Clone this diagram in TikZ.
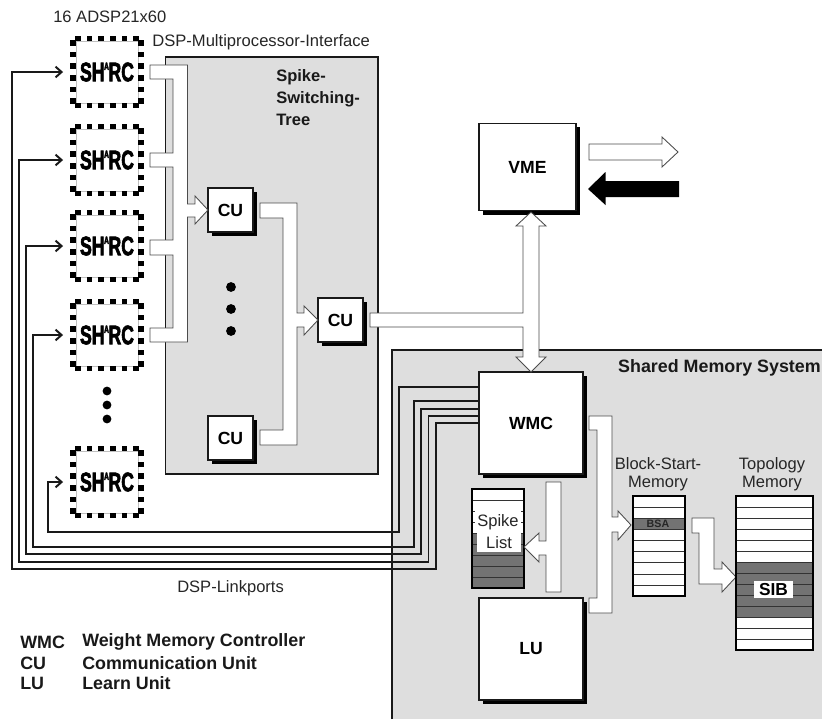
\documentclass[tikz,border=0pt]{standalone}
\usepackage{fontspec}
\usepackage{graphicx}
\setmainfont{Liberation Sans}
\newfontfamily\sharcfont[FakeBold=3]{Liberation Sans}
\usetikzlibrary{arrows.meta,shadows}
\colorlet{panel}{black!13}
\colorlet{rowgrey}{black!55}
\colorlet{ink}{black!90}
\tikzset{
  panelbox/.style={fill=panel,draw=ink,line width=1.1pt},
  unit/.style={draw=ink,line width=1.2pt,fill=white,inner sep=0pt,font=\fontsize{13.2}{13}\selectfont\bfseries,
    general shadow={fill=black,shadow xshift=3pt,shadow yshift=-3pt}},
  cu/.style={unit,minimum width=33.5pt,minimum height=33pt},
  bigunit/.style={unit,minimum width=78pt,minimum height=76.5pt},
  bus/.style={draw=black!70,line width=.65pt,fill=white,line join=miter},
  linkline/.style={draw=ink,line width=1.2pt,-{Straight Barb[length=4.5pt,width=8pt,line width=1.5pt]},shorten >=9.5pt},
  chipbox/.style={draw=black!25,line width=.4pt,fill=white,minimum width=46.5pt,minimum height=46.5pt,inner sep=0pt},
  label/.style={font=\fontsize{12.4}{14}\selectfont,inner sep=0pt,text=black!85},
  blabel/.style={font=\fontsize{13.4}{14}\selectfont\bfseries,inner sep=0pt,text=black!90},
  tablebox/.style={draw=black,line width=1.1pt},
  rowline/.style={draw=black!80,line width=.7pt},
}
\newcommand{\sharclogo}{\scalebox{.66}[1]{\fontsize{20}{20}\sharcfont\bfseries SH\kern-.6pt\raisebox{.42em}{\fontsize{8}{8}\sharcfont\bfseries A}\kern-.6pt RC}}
\begin{document}
\begin{tikzpicture}[x=.75pt,y=-.75pt]
\useasboundingbox (0,0) rectangle (822,719);
% panels
\path[panelbox] (165.5,57) rectangle (378,474);
\fill[panel] (392,350) rectangle (822,719);
\draw[ink,line width=1.1pt] (392,719) -- (392,350) -- (822,350);

% chips
\foreach \n/\cy in {1/72,2/160,3/246,4/335,5/482}{
  \node[chipbox] (chip\n) at (107,\cy) {\sharclogo};
  \foreach \o in {-29,-17.5,-6,6,17.5,29}{
    \fill[black] (107+\o-2.7,\cy-33.5-2.7) rectangle +(5.4,5.4);
    \fill[black] (107+\o-2.7,\cy+33.5-2.7) rectangle +(5.4,5.4);
    \fill[black] (107-34-2.7,\cy+\o-2.7) rectangle +(5.4,5.4);
    \fill[black] (107+34-2.7,\cy+\o-2.7) rectangle +(5.4,5.4);
  }
}
% dots
\foreach \y [count=\i] in {391,405,419}{\fill[black] (107,\y) circle (4.4);}
\foreach \y [count=\i] in {287,309,331}{\fill[black] (231,\y) circle (4.9);}

% units
\node[cu] (cu1) at (230.5,210) {CU};
\node[cu] (cu3) at (230.5,438) {CU};
\node[cu] (cu2) at (340.5,320) {CU};
\node[bigunit,minimum width=72.5pt,minimum height=65.5pt] (vme) at (527.5,167) {VME};

% chip bus into CU1
\path[bus] (150,65) -- (187.5,65) -- (187.5,204) -- (195,204) -- (195,196) -- (208,210) -- (195,224) -- (195,217)
  -- (187.5,217) -- (187.5,342) -- (150,342) -- (150,328) -- (173,328) -- (173,255) -- (150,255) -- (150,240)
  -- (173,240) -- (173,167) -- (150,167) -- (150,153) -- (173,153) -- (173,79) -- (150,79) -- cycle;
% CU bus into CU2
\path[bus] (260,203) -- (297,203) -- (297,313) -- (304,313) -- (304,306) -- (318,320) -- (304,335) -- (304,327)
  -- (297,327) -- (297,445) -- (260,445) -- (260,430) -- (283,430) -- (283,218) -- (260,218) -- cycle;

% link port lines
\node[bigunit] (wmc) at (531,423) {WMC};
\node[bigunit] (lu) at (531,649) {LU};
\coordinate (w1) at (479,423);
\coordinate (w2) at (479,416);
\coordinate (w3) at (479,409);
\coordinate (w4) at (479,401);
\coordinate (w5) at (479,387);
\draw[linkline] (w1) -| (436,569) -| (12,72) -- (chip1.west);
\draw[linkline] (w2) -| (428.5,562) -| (19,160) -- (chip2.west);
\draw[linkline] (w3) -| (421,554) -| (26,246) -- (chip3.west);
\draw[linkline] (w4) -| (414,547) -| (33,335) -- (chip4.west);
\draw[linkline] (w5) -| (399,532) -| (48,482) -- (chip5.west);

% double arrow VME/WMC with CU2 branch
\path[bus] (531,212) -- (546,226) -- (539,226) -- (539,357) -- (546,357) -- (531,372) -- (516,357) -- (523,357)
  -- (523,327) -- (370,327) -- (370,313) -- (523,313) -- (523,226) -- (516,226) -- cycle;

% VME arrows
\path[bus] (589,144) -- (662,144) -- (662,137) -- (678,152) -- (662,167) -- (662,160) -- (589,160) -- cycle;
\fill[black] (679,181) -- (605.5,181) -- (605.5,172) -- (588,189) -- (605.5,205) -- (605.5,197) -- (679,197) -- cycle;

% spike list table
\fill[white] (472,489) rectangle (524,533);
\fill[rowgrey] (472,533) rectangle (524,588);
\foreach \y in {500,511,522,533,544,555,566,577}{\draw[rowline] (472,\y) -- (524,\y);}
\draw[tablebox] (472,489) rectangle (524,588);
\node[label,fill=white,minimum width=35pt,minimum height=16.5pt] (spike) at (498,522) {Spike};
\node[label,fill=white,minimum width=33pt,minimum height=14.5pt] (list) at (499,542.5) {List};

% arrow to spike list
\path[bus] (546,482) -- (561,482) -- (561,592) -- (546,592) -- (546,555) -- (539,555) -- (539,562) -- (524,547)
  -- (539,533) -- (539,541) -- (546,541) -- cycle;

% WMC/LU bus to BSM
\path[bus] (589,416) -- (612,416) -- (612,517) -- (618,517) -- (618,511) -- (631,525) -- (618,540) -- (618,532)
  -- (612,532) -- (612,613) -- (589,613) -- (589,598) -- (597,598) -- (597,430) -- (589,430) -- cycle;

% block-start memory
\fill[white] (633,496) rectangle (685,596);
\fill[rowgrey] (633,518) rectangle (685,529);
\foreach \y in {507,518,529,540,551,562,574,585}{\draw[rowline] (633,\y) -- (685,\y);}
\draw[tablebox] (633,496) rectangle (685,596);
\node[font=\fontsize{8}{8}\selectfont\bfseries,inner sep=0pt,text=black!85] (bsa) at (658,523.5) {BSA};

% arrow BSA to topology
\path[bus] (692,518) -- (714,518) -- (714,569) -- (722,569) -- (722,562) -- (736,577) -- (722,592) -- (722,584)
  -- (699,584) -- (699,533) -- (692,533) -- cycle;

% topology memory
\fill[white] (736,496) rectangle (813,650);
\fill[rowgrey] (736,562) rectangle (813,617);
\foreach \y in {507,518,529,540,551,562,573,584,595,606,617,628,639}{\draw[rowline] (736,\y) -- (813,\y);}
\draw[tablebox] (736,496) rectangle (813,650);
\node[fill=white,font=\fontsize{13}{13}\selectfont\bfseries,inner sep=0pt,minimum width=29.5pt,minimum height=13pt] (sib) at (773.5,589.5) {SIB};

% texts
\node[label,anchor=west] (t1) at (53,17) {16 ADSP21x60};
\node[label,anchor=west,font=\fontsize{12.45}{14}\selectfont] (t2) at (152,42) {DSP-Multiprocessor-Interface};
\node[blabel,anchor=north west,align=left,font=\fontsize{12.4}{16.5}\selectfont\bfseries] (t3) at (276,69) {Spike-\\Switching-\\Tree};
\node[blabel,anchor=east] (t4) at (821,368) {Shared Memory System};
\node[label,align=center,font=\fontsize{12.4}{13.5}\selectfont] (t5) at (658,474) {Block-Start-\\Memory};
\node[label,align=center,font=\fontsize{12.4}{13.5}\selectfont] (t6) at (772,474) {Topology\\Memory};
\node[label,anchor=west] (t7) at (177,588) {DSP-Linkports};
\node[blabel,anchor=west] (l1) at (20,642) {WMC};
\node[blabel,anchor=west] (l2) at (20,663) {CU};
\node[blabel,anchor=west] (l3) at (20,683) {LU};
\node[blabel,anchor=west] (d1) at (82,642) {Weight Memory Controller};
\node[blabel,anchor=west] (d2) at (82,663) {Communication Unit};
\node[blabel,anchor=west] (d3) at (82,683) {Learn Unit};
\end{tikzpicture}
\end{document}
